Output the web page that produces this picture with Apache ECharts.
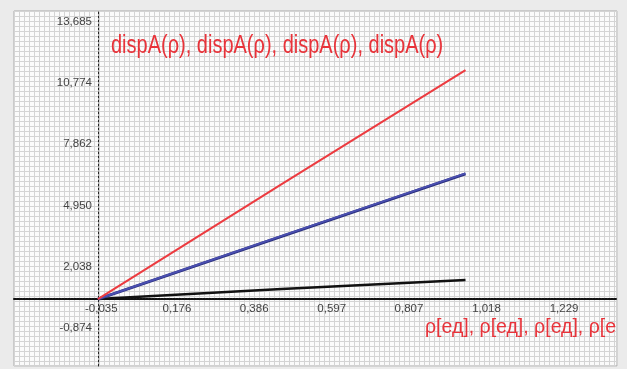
<!DOCTYPE html>
<html>
<head>
<meta charset="utf-8">
<script src="https://cdn.jsdelivr.net/npm/echarts@6/dist/echarts.min.js"></script>
<style>
  html, body { margin: 0; padding: 0; background: #ebebeb; }
  #chart { width: 627px; height: 369px; }
</style>
</head>
<body>
<div id="chart"></div>
<script>
// values
const rho = [0, 0.5, 1];
const dispRed = [0, 5.46, 10.88];
const dispBlue = [0, 3.0, 5.97];
const dispNavy = [0, 2.98, 5.95];
const dispBlack = [0, 0.48, 0.9];
const xTicks = [-0.035, 0.176, 0.386, 0.597, 0.807, 1.018, 1.229];
const yTicks = [-0.874, 2.038, 4.950, 7.862, 10.774, 13.685];
const titleText = 'dispA(ρ), dispA(ρ), dispA(ρ), dispA(ρ)';
const xNameText = 'ρ[ед], ρ[ед], ρ[ед], ρ[е'; // cut off by the plot edge in the original

const FONT = "'Liberation Sans', Arial, sans-serif";
const RED = '#e8333a';
const fmt = v => v.toFixed(3).replace('.', ',');
const pairs = ys => rho.map((x, i) => [x, ys[i]]);

const chart = echarts.init(document.getElementById('chart'));

// fine background grid, one cell ~5px
const fineAxis = (max) => ({
  type: 'value',
  min: 0,
  max,
  interval: 5,
  axisLine: { show: false, onZero: false },
  axisTick: { show: false },
  axisLabel: { show: false },
  splitLine: { show: true, lineStyle: { color: '#d4d4d4', width: 1 } },
});

chart.setOption({
  animation: false,
  backgroundColor: '#ebebeb',
  graphic: [
    {
      // narrow-looking title: no condensed font installed, so squeeze it
      type: 'text',
      x: 111,
      y: 34,
      scaleX: 0.8,
      z: 10,
      style: { text: titleText, font: `25px ${FONT}`, fill: RED, verticalAlign: 'top' },
    },
    {
      type: 'text',
      x: 425,
      y: 318,
      z: 10,
      style: { text: xNameText, font: `19.5px ${FONT}`, fill: RED, verticalAlign: 'top' },
    },
  ],
  grid: {
    left: 14, right: 10, top: 11, bottom: 3,
    containLabel: false,
    outerBoundsMode: 'none',
    show: true, backgroundColor: '#fbfbfb', borderColor: '#a8a8a8', borderWidth: 1,
  },
  xAxis: [
    {
      type: 'value',
      min: -0.228,
      max: 1.412,
      position: 'bottom',
      offset: -67, // sits on y = 0
      axisLine: { onZero: false, lineStyle: { color: '#111', width: 2, type: [2, 1] } },
      axisTick: { show: false },
      splitLine: { show: false },
      axisLabel: {
        customValues: xTicks,
        formatter: fmt,
        align: 'left',
        verticalAlign: 'top',
        margin: 4,
        color: '#444',
        fontSize: 11.5,
        lineHeight: 11,
        fontFamily: FONT,
      },
    },
    fineAxis(603),
  ],
  yAxis: [
    {
      type: 'value',
      min: -3.18,
      max: 13.685,
      position: 'left',
      offset: -84, // sits on x = 0
      axisLine: { onZero: false, lineStyle: { color: '#222', width: 1, type: [2, 2] } },
      axisTick: { show: false },
      splitLine: { show: false },
      axisLabel: {
        customValues: yTicks,
        formatter: fmt,
        align: 'right',
        verticalAlign: 'top',
        padding: [5, 0, 0, 0],
        margin: 6,
        color: '#444',
        fontSize: 11.5,
        lineHeight: 11,
        fontFamily: FONT,
      },
    },
    fineAxis(355),
  ],
  series: [
    { type: 'line', data: pairs(dispBlack), showSymbol: false, lineStyle: { color: '#111', width: 2.5 } },
    { type: 'line', data: pairs(dispNavy), showSymbol: false, lineStyle: { color: '#2a2f7e', width: 3 } },
    { type: 'line', data: pairs(dispBlue), showSymbol: false, lineStyle: { color: '#4a4fb0', width: 2 } },
    { type: 'line', data: pairs(dispRed), showSymbol: false, lineStyle: { color: '#ec3b40', width: 2 } },
  ],
});
</script>
</body>
</html>
